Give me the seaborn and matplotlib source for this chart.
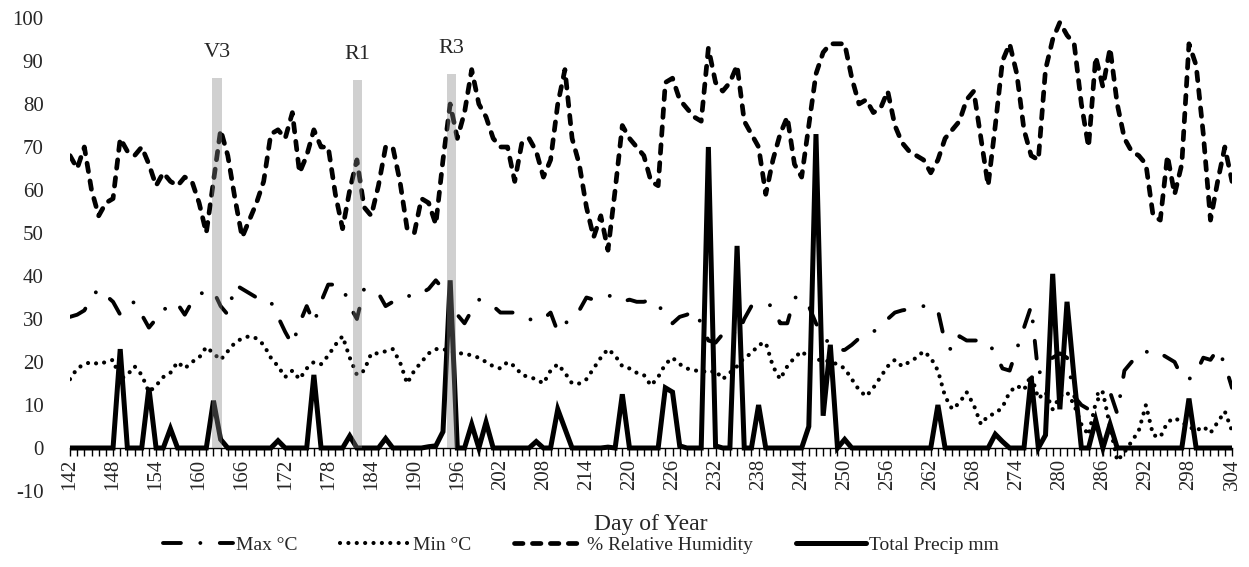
import numpy as np
import pandas as pd
import matplotlib.pyplot as plt
import seaborn as sns

sns.set_theme(style="white")
plt.rcParams['font.family'] = ['Liberation Serif', 'DejaVu Serif']
plt.rcParams['axes.unicode_minus'] = False

# daily weather, day of year 142..304
days = list(range(142, 305))

max_c = [30.5, 31, 32, 35, 37, 35.5, 34, 31, 33, 34,          # 142-151
         31, 28, 30, 32.5, 32, 33.5, 31, 34, 36, 36,           # 152-161
         36.5, 33, 31, 38, 37, 36, 35, 35, 34, 30.5,           # 162-171
         27, 24, 29, 33, 29, 34, 38, 38, 37.5, 33,             # 172-181
         30, 37, 36.5, 36, 33, 34, 35, 35.5, 35, 36,           # 182-191
         37, 39, 37, 35, 31, 29, 32, 34.5, 34, 33,             # 192-201
         31.5, 31.5, 31.5, 31, 30, 29.5, 30, 31.5, 27, 29,     # 202-211
         30, 32, 35, 34.5, 35, 35.5, 35, 34, 34.5, 34,         # 212-221
         34, 34.5, 33.5, 30.5, 29, 30.5, 31, 32, 29, 25,       # 222-231
         24.5, 26.5, 28, 26, 30, 33, 33.5, 33.5, 33, 29,       # 232-241
         29, 35, 35, 33, 29, 26, 24, 22.8, 22.8, 24,           # 242-251
         25.5, 26, 27, 28.5, 30, 31.5, 32, 32.3, 32.5, 33,     # 252-261
         33, 32, 24.5, 22.5, 26, 25, 25, 25, 24.5, 22,         # 262-271
         18.5, 18, 23, 28, 33, 17, 20, 21, 22, 21,             # 272-281
         12, 10, 9, 12, 14, 13, 8, 18, 20, 22,                 # 282-291
         22.5, 21.5, 22, 21, 20, 16.5, 16, 17.5, 21, 20.5,     # 292-301
         23, 19.5, 14]                                         # 302-304

min_c = [16, 18.5, 19.5, 20, 19.5, 20, 20.5, 16, 17, 19,
         17, 13, 14.5, 16.5, 17.5, 20, 18.5, 20, 21, 23.5,
         22, 20.5, 22.5, 24.5, 25.5, 26, 25.5, 24, 21, 19,
         16.5, 18, 16, 18.5, 20, 19.5, 21.5, 24, 26, 21,
         17, 18, 22, 22, 22.5, 23, 20, 15, 18, 20,
         22, 23, 23, 22.5, 22, 22, 21.5, 21, 20, 19,
         18.5, 20, 19, 17, 16.5, 16, 15, 18, 19.5, 17.5,
         15, 15, 16, 18.5, 21, 23, 21.5, 19, 18.5, 17.5,
         17, 14.5, 16.5, 19.5, 21, 19.5, 18.5, 18, 18, 17.5,
         18, 16, 17.5, 19, 21, 22, 24, 24.5, 19, 16,
         19, 21, 22.5, 21, 20.5, 20.5, 20, 19.5, 18.5, 16,
         13.5, 12, 14, 16.5, 19, 20.5, 19, 20, 21, 22.5,
         21, 18, 12, 9, 10.5, 13, 10, 5.5, 7.5, 8,
         9.5, 13, 14.5, 13.5, 17, 11.5, 13, 9, 12, 13,
         10, 5.5, 3, 10.5, 13, 5, -3, -1, 1.5, 4,
         10, 3, 2.5, 6, 7, 6, 5, 4, 5, 3.5,
         6, 8.5, 4]

rel_hum = [68, 65, 70, 60, 54, 57, 58, 72, 69, 68,
           70, 66, 61, 64, 62, 61, 63, 62, 57, 50,
           62, 74, 68, 58, 49, 53, 57, 62, 73, 74,
           72, 78, 64, 68, 74, 70, 70, 59, 51, 60,
           67, 56, 54, 61, 70, 70, 62, 51, 50, 58,
           57, 52, 67, 80, 72, 78, 88, 80, 77, 72,
           70, 70, 62, 71, 72, 69, 63, 67, 80, 88,
           72, 66, 56, 49, 54, 46, 60, 75, 72, 70,
           68, 62, 61, 85, 86, 81, 79, 77, 76, 93,
           85, 83, 85, 89, 76, 73, 70, 59, 67, 73,
           77, 66, 63, 75, 87, 92, 94, 94, 94, 86,
           80, 81, 78, 79, 83, 75, 71, 69, 68, 67,
           64, 67, 72, 74, 76, 81, 83, 72, 61, 75,
           90, 94, 87, 74, 68, 67, 88, 95, 99, 96,
           94, 80, 70, 91, 84, 93, 80, 72, 69, 68,
           66, 54, 53, 68, 59, 66, 94, 89, 73, 53,
           62, 70, 62]

precip = [0, 0, 0, 0, 0, 0, 0, 23, 0, 0,
          0, 14, 0, 0, 4.5, 0, 0, 0, 0, 0,
          11, 2, 0, 0, 0, 0, 0, 0, 0, 1.7,
          0, 0, 0, 0, 17, 0, 0, 0, 0, 2.8,
          0, 0, 0, 0, 2.2, 0, 0, 0, 0, 0,
          0.3, 0.5, 3.8, 39, 0, 0, 5.5, 0, 6, 0,
          0, 0, 0, 0, 0, 1.5, 0, 0, 9, 4.5,
          0, 0, 0, 0, 0, 0.2, 0, 12.5, 0, 0,
          0, 0, 0, 14, 13, 0.5, 0, 0, 0, 70,
          0.5, 0, 0, 47, 0, 0, 10, 0, 0, 0,
          0, 0, 0, 5, 73, 7.5, 24, 0, 2, 0,
          0, 0, 0, 0, 0, 0, 0, 0, 0, 0,
          0, 10, 0, 0, 0, 0, 0, 0, 0, 3.2,
          1.5, 0, 0, 0, 16.5, 0, 3, 40.5, 9, 34,
          16, 0, 0, 6.5, 0, 5.5, 0, 0, 0, 0,
          0, 0, 0, 0, 0, 0, 11.5, 0, 0, 0,
          0, 0, 0]

# growth stages
stage_names = ['V3', 'R1', 'R3']
stage_days = [162.5, 182.1, 195.2]
stage_tops = [86, 85.5, 87]

df = pd.DataFrame({'day': days, 'max': max_c, 'min': min_c,
                   'rh': rel_hum, 'precip': precip})

fig = plt.figure(figsize=(12.49, 5.67), dpi=100)
ax = fig.add_axes([70/1249, 1 - 491/567, 1162/1249, 473/567])

sns.lineplot(data=df, x='day', y='max', ax=ax, color='black', lw=2.8,
             linestyle=(0, (4.6, 5.0, 0.01, 5.0)), dash_capstyle='round',
             label='Max °C')
sns.lineplot(data=df, x='day', y='min', ax=ax, color='black', lw=3.0,
             linestyle=(0, (0.01, 2.0)), dash_capstyle='round',
             label='Min °C')
sns.lineplot(data=df, x='day', y='rh', ax=ax, color='black', lw=3.4,
             linestyle=(0, (1.8, 2.0)), dash_capstyle='round',
             label='% Relative Humidity')
sns.lineplot(data=df, x='day', y='precip', ax=ax, color='black', lw=3.6,
             solid_joinstyle='miter', label='Total Precip mm')

ax.bar(stage_days, stage_tops, width=1.3, color='#858585', alpha=0.38,
       linewidth=0, zorder=5)
for name, d, top in zip(stage_names, stage_days, stage_tops):
    ax.text(d, top + 6, name, ha='center', va='center', fontsize=16)

ax.set_xlim(142, 304)
ax.set_ylim(-10, 100)
ax.set_xticks(range(142, 305, 6))
ax.set_xticks(range(142, 305), minor=True)
ax.set_yticks(range(-10, 101, 10))
ax.tick_params(axis='x', which='both', direction='out', length=6, width=1,
               color='black', bottom=True, labelsize=15, labelrotation=90, pad=2)
ax.tick_params(axis='y', length=0, labelsize=15, pad=19)

for s in ['left', 'top', 'right']:
    ax.spines[s].set_visible(False)
ax.spines['bottom'].set_position(('data', 0))
ax.spines['bottom'].set_color('black')
ax.spines['bottom'].set_linewidth(1)

ax.set_ylabel('')
ax.set_xlabel('Day of Year', fontsize=17, labelpad=17)

ax.legend(loc='center', bbox_to_anchor=(0.465, 0.039), bbox_transform=fig.transFigure,
          ncol=4, frameon=False, fontsize=14, handlelength=3.6, handletextpad=0.15,
          columnspacing=2.2)

fig.savefig('out.png', dpi=100)
